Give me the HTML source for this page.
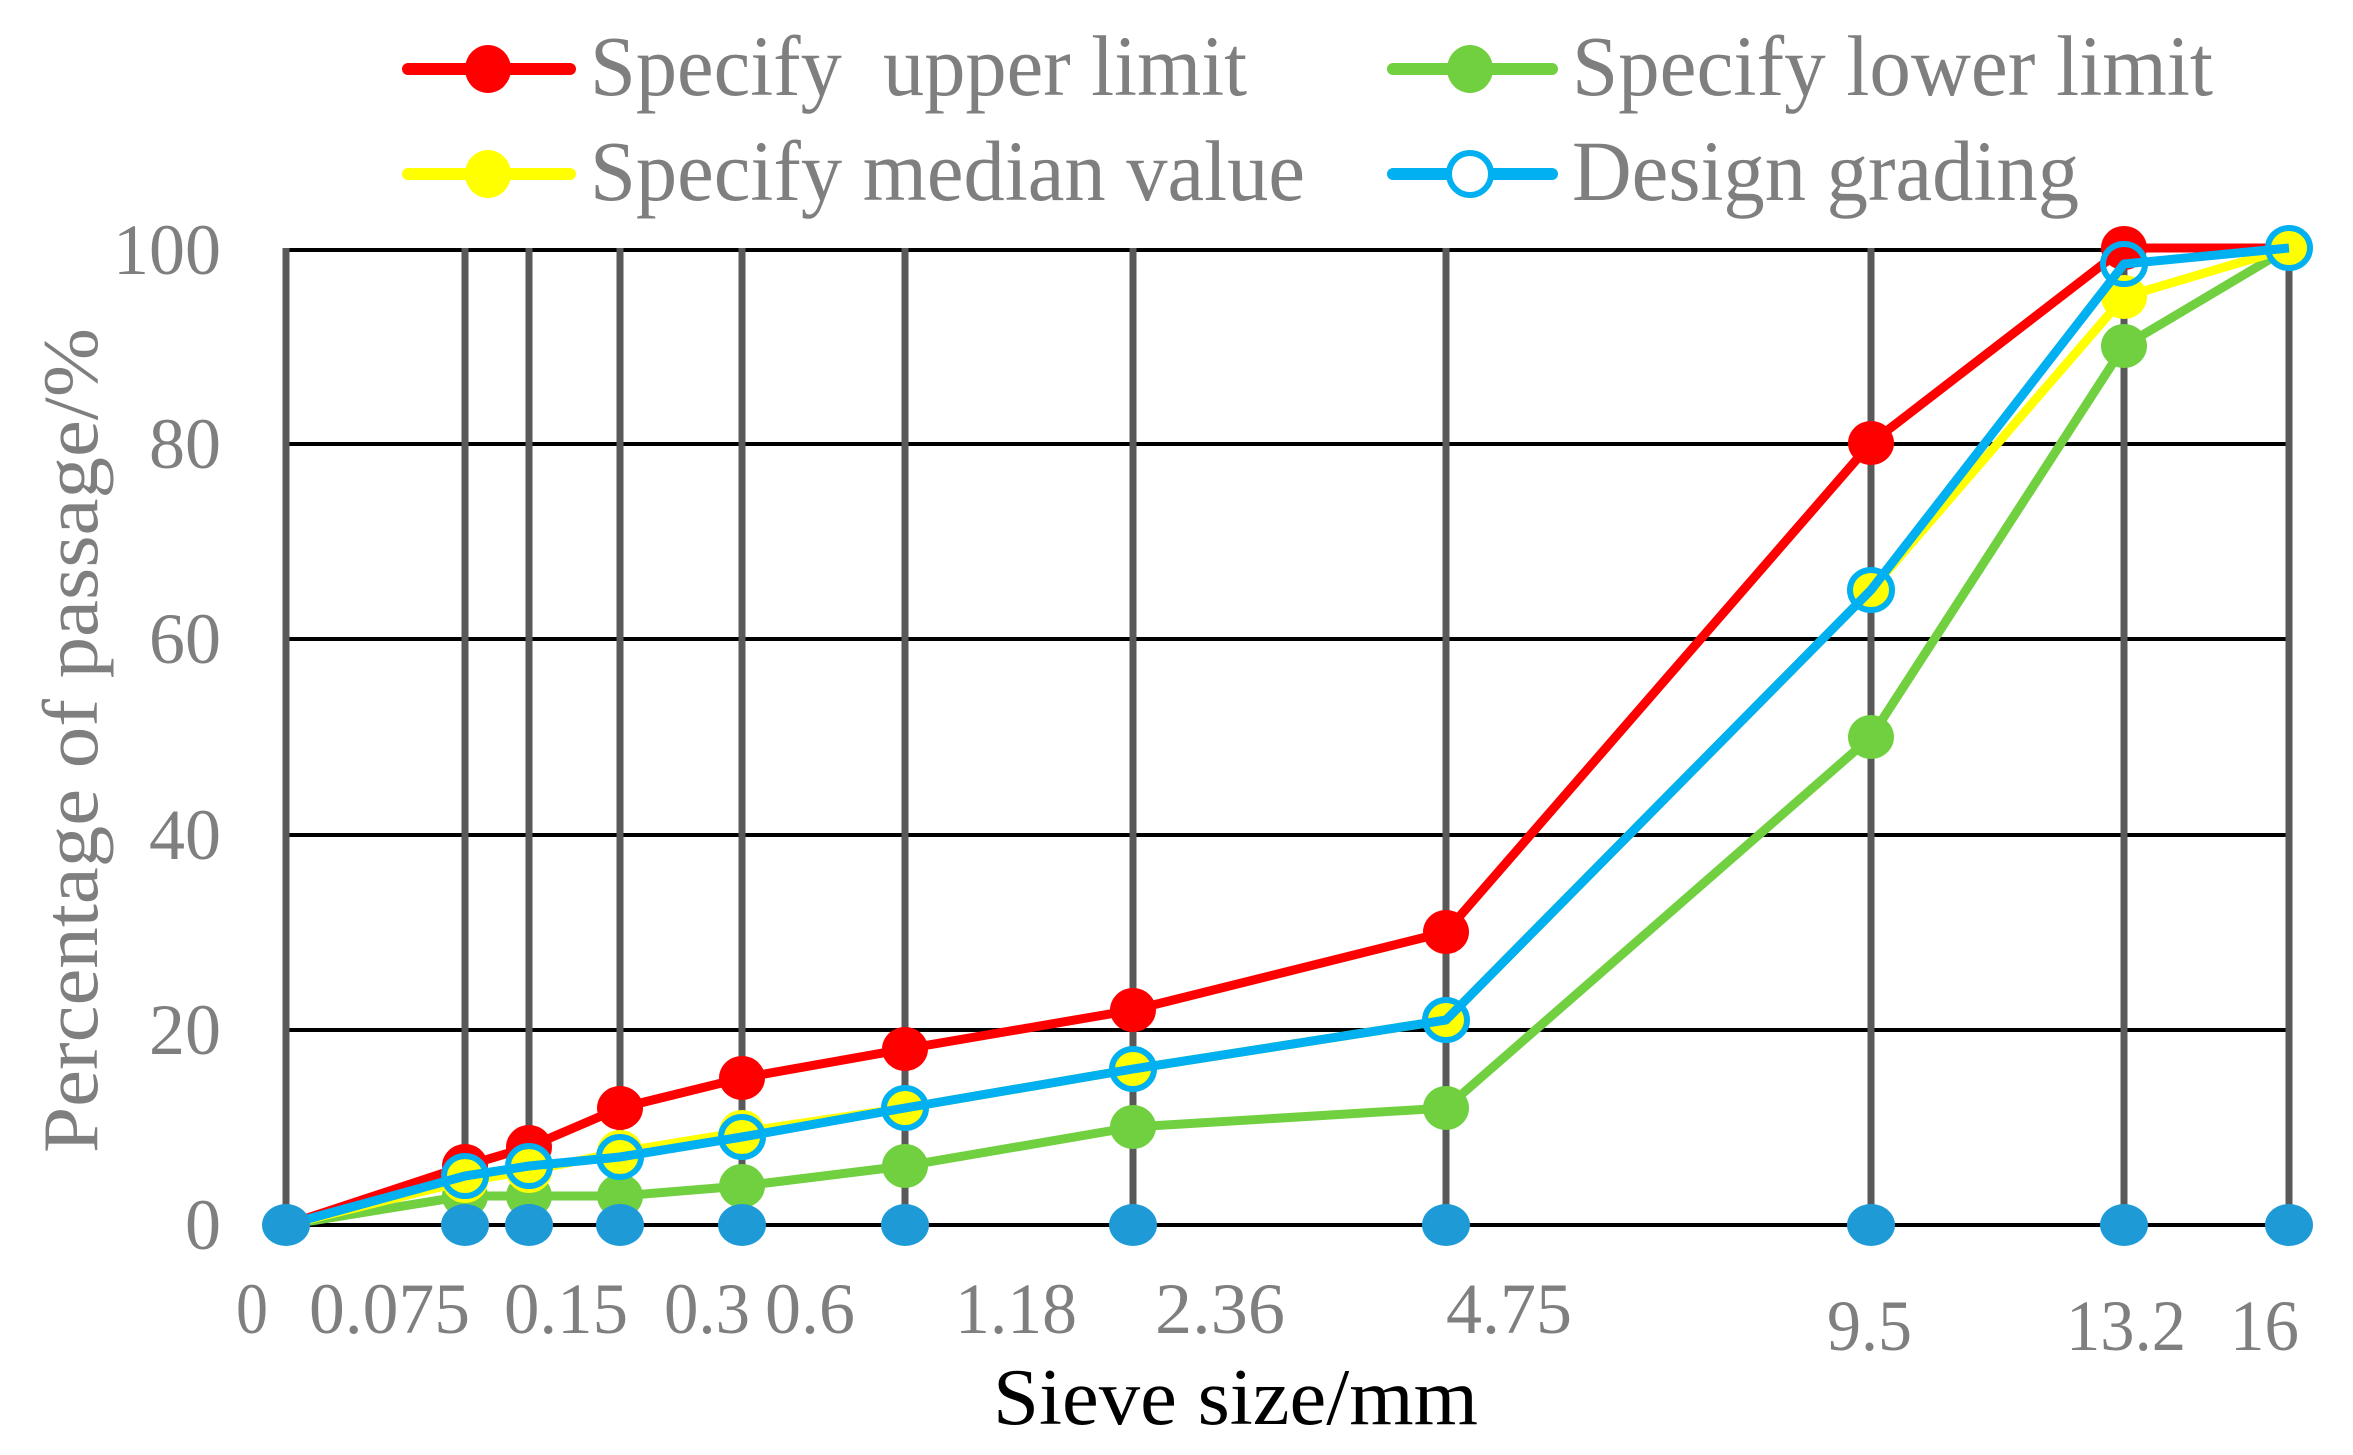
<!DOCTYPE html>
<html><head><meta charset="utf-8"><style>html,body{margin:0;padding:0;background:#fff}svg{display:block}</style></head>
<body>
<svg width="2353" height="1455" viewBox="0 0 2353 1455" xmlns="http://www.w3.org/2000/svg" font-family="'Liberation Serif', serif">
<rect width="2353" height="1455" fill="#fff"/>
<g stroke="#000" stroke-width="4">
<line x1="285" y1="250" x2="2289" y2="250"/>
<line x1="285" y1="444" x2="2289" y2="444"/>
<line x1="285" y1="639" x2="2289" y2="639"/>
<line x1="285" y1="835" x2="2289" y2="835"/>
<line x1="285" y1="1030" x2="2289" y2="1030"/>
<line x1="285" y1="1225" x2="2289" y2="1225"/>
</g>
<g stroke="#595959" stroke-width="7">
<line x1="286" y1="248" x2="286" y2="1225"/>
<line x1="465" y1="248" x2="465" y2="1225"/>
<line x1="529" y1="248" x2="529" y2="1225"/>
<line x1="620" y1="248" x2="620" y2="1225"/>
<line x1="742" y1="248" x2="742" y2="1225"/>
<line x1="905" y1="248" x2="905" y2="1225"/>
<line x1="1133" y1="248" x2="1133" y2="1225"/>
<line x1="1446" y1="248" x2="1446" y2="1225"/>
<line x1="1871" y1="248" x2="1871" y2="1225"/>
<line x1="2124" y1="248" x2="2124" y2="1225"/>
<line x1="2289" y1="248" x2="2289" y2="1225"/>
</g>
<g fill="#ff0000">
<polyline fill="none" stroke="#ff0000" stroke-width="9" stroke-linejoin="round" points="286,1225 465,1166 529,1147 620,1108 742,1078 905,1049 1133,1010 1446,932 1871,443 2124,248 2289,248"/>
<ellipse cx="465" cy="1166" rx="23" ry="22"/><ellipse cx="529" cy="1147" rx="23" ry="22"/><ellipse cx="620" cy="1108" rx="23" ry="22"/><ellipse cx="742" cy="1078" rx="23" ry="22"/><ellipse cx="905" cy="1049" rx="23" ry="22"/><ellipse cx="1133" cy="1010" rx="23" ry="22"/><ellipse cx="1446" cy="932" rx="23" ry="22"/><ellipse cx="1871" cy="443" rx="23" ry="22"/><ellipse cx="2124" cy="248" rx="23" ry="22"/>
</g>
<g fill="#70d040">
<polyline fill="none" stroke="#70d040" stroke-width="9" stroke-linejoin="round" points="286,1225 465,1196 529,1196 620,1196 742,1186 905,1166 1133,1127 1446,1108 1871,737 2124,346 2289,248"/>
<ellipse cx="465" cy="1196" rx="23" ry="22"/><ellipse cx="529" cy="1196" rx="23" ry="22"/><ellipse cx="620" cy="1196" rx="23" ry="22"/><ellipse cx="742" cy="1186" rx="23" ry="22"/><ellipse cx="905" cy="1166" rx="23" ry="22"/><ellipse cx="1133" cy="1127" rx="23" ry="22"/><ellipse cx="1446" cy="1108" rx="23" ry="22"/><ellipse cx="1871" cy="737" rx="23" ry="22"/><ellipse cx="2124" cy="346" rx="23" ry="22"/>
</g>
<g fill="#ffff00">
<polyline fill="none" stroke="#ffff00" stroke-width="9" stroke-linejoin="round" points="286,1225 465,1181 529,1171 620,1152 742,1132 905,1108 1133,1069 1446,1020 1871,590 2124,297 2289,248"/>
<ellipse cx="465" cy="1181" rx="23" ry="22"/><ellipse cx="529" cy="1171" rx="23" ry="22"/><ellipse cx="620" cy="1152" rx="23" ry="22"/><ellipse cx="742" cy="1132" rx="23" ry="22"/><ellipse cx="905" cy="1108" rx="23" ry="22"/><ellipse cx="1133" cy="1069" rx="23" ry="22"/><ellipse cx="1446" cy="1020" rx="23" ry="22"/><ellipse cx="1871" cy="590" rx="23" ry="22"/><ellipse cx="2124" cy="297" rx="23" ry="22"/><ellipse cx="2289" cy="248" rx="23" ry="22"/>
</g>
<g fill="none" stroke="#00b0f0" stroke-width="6">
<polyline stroke-width="9" stroke-linejoin="round" points="286,1225 465,1176 529,1166 620,1157 742,1137 905,1108 1133,1069 1446,1020 1871,590 2124,264 2289,248"/>
<ellipse cx="465" cy="1176" rx="21" ry="20"/><ellipse cx="529" cy="1166" rx="21" ry="20"/><ellipse cx="620" cy="1157" rx="21" ry="20"/><ellipse cx="742" cy="1137" rx="21" ry="20"/><ellipse cx="905" cy="1108" rx="21" ry="20"/><ellipse cx="1133" cy="1069" rx="21" ry="20"/><ellipse cx="1446" cy="1020" rx="21" ry="20"/><ellipse cx="1871" cy="590" rx="21" ry="20"/><ellipse cx="2124" cy="264" rx="21" ry="20"/><ellipse cx="2289" cy="248" rx="21" ry="20"/>
</g>
<g fill="#1e9bd7">
<ellipse cx="286" cy="1225" rx="24" ry="21"/><ellipse cx="465" cy="1225" rx="24" ry="21"/><ellipse cx="529" cy="1225" rx="24" ry="21"/><ellipse cx="620" cy="1225" rx="24" ry="21"/><ellipse cx="742" cy="1225" rx="24" ry="21"/><ellipse cx="905" cy="1225" rx="24" ry="21"/><ellipse cx="1133" cy="1225" rx="24" ry="21"/><ellipse cx="1446" cy="1225" rx="24" ry="21"/><ellipse cx="1871" cy="1225" rx="24" ry="21"/><ellipse cx="2124" cy="1225" rx="24" ry="21"/><ellipse cx="2289" cy="1225" rx="24" ry="21"/>
</g>
<g fill="#7f7f7f" font-size="72" text-anchor="end">
<text x="221" y="274">100</text>
<text x="221" y="468">80</text>
<text x="221" y="663">60</text>
<text x="221" y="859">40</text>
<text x="221" y="1054">20</text>
<text x="221" y="1249">0</text>
</g>
<g fill="#7f7f7f" font-size="72">
<text x="236" y="1333" textLength="32" lengthAdjust="spacingAndGlyphs">0</text>
<text x="309" y="1333" textLength="161" lengthAdjust="spacingAndGlyphs">0.075</text>
<text x="504" y="1333" textLength="124" lengthAdjust="spacingAndGlyphs">0.15</text>
<text x="664" y="1333" textLength="86" lengthAdjust="spacingAndGlyphs">0.3</text>
<text x="765" y="1333" textLength="90" lengthAdjust="spacingAndGlyphs">0.6</text>
<text x="955" y="1333" textLength="122" lengthAdjust="spacingAndGlyphs">1.18</text>
<text x="1155" y="1333" textLength="130" lengthAdjust="spacingAndGlyphs">2.36</text>
<text x="1446" y="1333" textLength="126" lengthAdjust="spacingAndGlyphs">4.75</text>
<text x="1827" y="1350" textLength="85" lengthAdjust="spacingAndGlyphs">9.5</text>
<text x="2066" y="1350" textLength="120" lengthAdjust="spacingAndGlyphs">13.2</text>
<text x="2230" y="1350" textLength="69" lengthAdjust="spacingAndGlyphs">16</text>
</g>
<text x="993" y="1424" font-size="80" fill="#000" textLength="485" lengthAdjust="spacingAndGlyphs">Sieve size/mm</text>
<text transform="translate(97,1153) rotate(-90)" font-size="78" fill="#7f7f7f" textLength="825" lengthAdjust="spacingAndGlyphs">Percentage of passage/%</text>
<g stroke-width="12" stroke-linecap="round">
<line x1="408" y1="69" x2="570" y2="69" stroke="#ff0000"/>
<line x1="408" y1="174" x2="570" y2="174" stroke="#ffff00"/>
<line x1="1393" y1="69" x2="1552" y2="69" stroke="#70d040"/>
<line x1="1393" y1="174" x2="1552" y2="174" stroke="#00b0f0"/>
</g>
<ellipse cx="488" cy="69" rx="23" ry="24" fill="#ff0000"/>
<ellipse cx="488" cy="174" rx="23" ry="24" fill="#ffff00"/>
<ellipse cx="1470" cy="69" rx="23" ry="24" fill="#70d040"/>
<ellipse cx="1470" cy="174" rx="21" ry="21" fill="#fff" stroke="#00b0f0" stroke-width="6"/>
<g fill="#7f7f7f" font-size="86">
<text x="590" y="95" textLength="657" lengthAdjust="spacingAndGlyphs" xml:space="preserve">Specify  upper limit</text>
<text x="590" y="200" textLength="715" lengthAdjust="spacingAndGlyphs">Specify median value</text>
<text x="1572" y="95" textLength="641" lengthAdjust="spacingAndGlyphs">Specify lower limit</text>
<text x="1572" y="200" textLength="507" lengthAdjust="spacingAndGlyphs">Design grading</text>
</g>
</svg>
</body></html>
